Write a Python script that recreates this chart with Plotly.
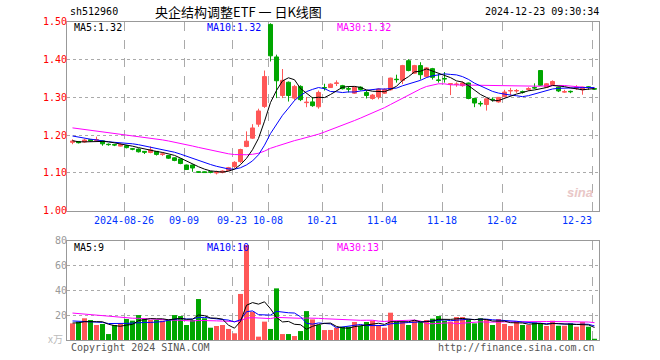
import numpy as np
import pandas as pd
import plotly.graph_objects as go

W, H = 660, 360

# ---------------- data ----------------
day_index = list(range(88))
tick_index = [9, 19, 27, 33, 42, 52, 62, 72, 87]
tick_labels = ["2024-08-26", "09-09", "09-23", "10-08", "10-21",
               "11-04", "11-18", "12-02", "12-23"]

opens = [1.181, 1.183, 1.182, 1.188, 1.186, 1.185, 1.176, 1.175, 1.171, 1.172,
         1.164, 1.163, 1.157, 1.154, 1.157, 1.149, 1.146, 1.140, 1.137, 1.121,
         1.121, 1.103, 1.103, 1.103, 1.100, 1.101, 1.106, 1.117, 1.130, 1.170,
         1.192, 1.229, 1.276, 1.493, 1.407, 1.305, 1.340, 1.298, 1.329, 1.286,
         1.288, 1.275, 1.326, 1.326, 1.337, 1.331, 1.323, 1.311, 1.327, 1.313,
         1.297, 1.301, 1.311, 1.320, 1.348, 1.345, 1.397, 1.364, 1.384, 1.355,
         1.376, 1.346, 1.350, 1.335, 1.334, 1.331, 1.338, 1.297, 1.284, 1.281,
         1.295, 1.288, 1.302, 1.317, 1.317, 1.315, 1.321, 1.326, 1.371, 1.327,
         1.334, 1.327, 1.314, 1.316, 1.324, 1.320, 1.328, 1.323]
highs = [1.189, 1.184, 1.190, 1.189, 1.196, 1.186, 1.178, 1.176, 1.178, 1.174,
         1.166, 1.165, 1.158, 1.170, 1.158, 1.154, 1.147, 1.141, 1.138, 1.122,
         1.122, 1.104, 1.104, 1.104, 1.106, 1.107, 1.116, 1.131, 1.164, 1.210,
         1.229, 1.270, 1.371, 1.496, 1.413, 1.375, 1.342, 1.333, 1.332, 1.301,
         1.301, 1.318, 1.336, 1.337, 1.345, 1.333, 1.329, 1.329, 1.329, 1.318,
         1.309, 1.324, 1.324, 1.352, 1.360, 1.386, 1.401, 1.386, 1.393, 1.380,
         1.378, 1.362, 1.367, 1.337, 1.340, 1.342, 1.339, 1.299, 1.290, 1.297,
         1.300, 1.301, 1.320, 1.325, 1.322, 1.318, 1.327, 1.337, 1.372, 1.338,
         1.345, 1.328, 1.320, 1.318, 1.332, 1.328, 1.330, 1.324]
lows = [1.176, 1.178, 1.180, 1.183, 1.185, 1.172, 1.172, 1.171, 1.170, 1.165,
        1.160, 1.154, 1.150, 1.152, 1.146, 1.145, 1.137, 1.131, 1.123, 1.108,
        1.103, 1.100, 1.100, 1.099, 1.096, 1.099, 1.105, 1.113, 1.126, 1.168,
        1.190, 1.222, 1.272, 1.395, 1.298, 1.298, 1.289, 1.292, 1.290, 1.274,
        1.275, 1.270, 1.318, 1.325, 1.330, 1.321, 1.313, 1.309, 1.318, 1.297,
        1.294, 1.295, 1.309, 1.318, 1.339, 1.335, 1.369, 1.362, 1.347, 1.352,
        1.347, 1.339, 1.339, 1.306, 1.328, 1.328, 1.295, 1.274, 1.276, 1.265,
        1.289, 1.286, 1.300, 1.305, 1.312, 1.310, 1.317, 1.322, 1.330, 1.325,
        1.333, 1.314, 1.312, 1.311, 1.320, 1.307, 1.320, 1.320]
closes = [1.184, 1.180, 1.187, 1.185, 1.188, 1.177, 1.175, 1.174, 1.175, 1.167,
          1.163, 1.156, 1.155, 1.161, 1.149, 1.150, 1.139, 1.133, 1.125, 1.109,
          1.113, 1.102, 1.101, 1.102, 1.101, 1.105, 1.114, 1.128, 1.162, 1.184,
          1.219, 1.264, 1.355, 1.410, 1.344, 1.345, 1.305, 1.329, 1.294, 1.287,
          1.278, 1.313, 1.325, 1.335, 1.338, 1.323, 1.322, 1.327, 1.321, 1.305,
          1.306, 1.322, 1.321, 1.351, 1.347, 1.384, 1.371, 1.384, 1.360, 1.378,
          1.353, 1.345, 1.349, 1.336, 1.335, 1.338, 1.297, 1.285, 1.283, 1.296,
          1.294, 1.300, 1.314, 1.318, 1.318, 1.314, 1.323, 1.325, 1.332, 1.336,
          1.342, 1.317, 1.315, 1.315, 1.326, 1.327, 1.326, 1.322]
# closes before the visible window (only feed the moving averages)
prior_closes = [1.245, 1.242, 1.240, 1.238, 1.236, 1.235, 1.233, 1.232, 1.231, 1.230,
                1.229, 1.228, 1.227, 1.226, 1.225, 1.224, 1.222, 1.221, 1.220, 1.215,
                1.214, 1.212, 1.210, 1.208, 1.206, 1.195, 1.188, 1.182, 1.178]

volumes = [13.4, 14.8, 17.5, 16.1, 12.1, 12.9, 4.8, 12.1, 13.4, 16.9,
           15.6, 20.1, 17.5, 16.1, 16.1, 15.6, 16.1, 20.1, 19.3, 12.1,
           16.1, 33.0, 17.5, 9.9, 11.3, 12.1, 8.9, 5.4, 37.1, 76.5,
           22.8, 2.7, 14.8, 8.9, 41.6, 4.8, 4.8, 3.2, 7.2, 23.3,
           16.6, 12.1, 8.0, 8.1, 9.9, 10.7, 10.7, 14.5, 11.3, 14.5,
           15.6, 11.5, 9.9, 22.0, 14.8, 14.8, 12.1, 16.1, 14.8, 16.1,
           17.2, 19.3, 15.6, 14.8, 18.5, 18.5, 16.6, 13.4, 17.5, 16.6,
           12.1, 16.9, 12.9, 11.3, 15.3, 12.1, 12.1, 14.0, 13.4, 11.3,
           15.6, 11.5, 11.5, 13.4, 10.7, 14.5, 10.7, 1.1]
volume_up = [1, 0, 1, 0, 1, 0, 0, 0, 1, 0,
             0, 0, 0, 1, 0, 1, 0, 0, 0, 0,
             0, 0, 0, 0, 1, 1, 1, 1, 1, 1,
             1, 1, 1, 0, 0, 1, 0, 1, 0, 0,
             1, 0, 1, 1, 1, 0, 0, 1, 0, 0,
             1, 1, 1, 1, 0, 1, 0, 1, 0, 1,
             0, 0, 0, 1, 1, 1, 0, 0, 0, 1,
             0, 1, 1, 1, 1, 0, 1, 0, 0, 1,
             1, 0, 1, 0, 1, 1, 0, 0]
prior_volumes = [28, 26, 30, 24, 27, 25, 22, 29, 26, 24,
                 23, 27, 25, 22, 24, 26, 23, 21, 24, 22,
                 18, 16, 19, 15, 17, 14, 13, 15, 13]

price_ticks = [1.00, 1.10, 1.20, 1.30, 1.40, 1.50]
volume_ticks = [0, 20, 40, 60, 80]

price_legend = ["MA5:1.32", "MA10:1.32", "MA30:1.32"]
volume_legend = ["MA5:9", "MA10:10", "MA30:13"]

# ---------------- styling ----------------
RED = "#ff5757"
GREEN = "#00a600"
BLUE = "#0000ff"
MAGENTA = "#ff00ff"
FRAME = "#999999"
GRID = "#aaaaaa"
MONO = "DejaVu Sans Mono, Liberation Mono, monospace"
CJK = "Noto Sans CJK SC, sans-serif"


def px(x):
    return x / W


def py(y):
    return 1 - y / H


def rolling(prior, vals, n):
    s = pd.Series(list(prior) + list(vals), dtype=float)
    return s.rolling(n).mean().iloc[len(prior):].to_numpy()


ma5 = rolling(prior_closes, closes, 5)
ma10 = rolling(prior_closes, closes, 10)
ma30 = rolling(prior_closes, closes, 30)
vma5 = rolling(prior_volumes, volumes, 5)
vma10 = rolling(prior_volumes, volumes, 10)
vma30 = rolling(prior_volumes, volumes, 30)

fig = go.Figure()

fig.add_trace(go.Candlestick(
    x=day_index, open=opens, high=highs, low=lows, close=closes,
    increasing=dict(line=dict(color=RED, width=1), fillcolor=RED),
    decreasing=dict(line=dict(color=GREEN, width=1), fillcolor=GREEN),
    whiskerwidth=0, xaxis="x", yaxis="y", showlegend=False, hoverinfo="skip"))

for arr, col in [(ma30, MAGENTA), (ma10, BLUE), (ma5, "#000000")]:
    fig.add_trace(go.Scatter(x=day_index, y=arr, mode="lines",
                             line=dict(color=col, width=1), xaxis="x", yaxis="y",
                             showlegend=False, hoverinfo="skip"))

fig.add_trace(go.Bar(x=day_index, y=volumes,
                     marker=dict(color=[RED if u else GREEN for u in volume_up],
                                 line=dict(width=0)),
                     xaxis="x2", yaxis="y2", showlegend=False, hoverinfo="skip"))

for arr, col in [(vma30, MAGENTA), (vma10, BLUE), (vma5, "#000000")]:
    fig.add_trace(go.Scatter(x=day_index, y=arr, mode="lines",
                             line=dict(color=col, width=1), xaxis="x2", yaxis="y2",
                             showlegend=False, hoverinfo="skip"))

x_left, x_right = 67, 598.5
unit = 6.0
x_range = [-(72.5 - x_left) / unit, (x_right - 72.5) / unit]
grid_pos = [i - 2.5 / unit for i in tick_index]
tick_text = list(tick_labels)
tick_text[-1] = tick_text[-1] + "\u00a0" * 5

common_x = dict(range=x_range, domain=[px(x_left), px(x_right)],
                tickvals=grid_pos, showgrid=True, gridcolor=GRID, griddash="dash",
                gridwidth=1, showline=True, mirror=True, linecolor=FRAME, linewidth=1,
                zeroline=False, ticks="", fixedrange=True, automargin=False)

fig.update_layout(
    width=W, height=H, margin=dict(l=0, r=0, t=0, b=0, autoexpand=False),
    paper_bgcolor="white", plot_bgcolor="white",
    boxgap=0.33, boxgroupgap=0, bargap=0.17,
    showlegend=False,
    xaxis=dict(common_x, anchor="y", ticktext=tick_text, showticklabels=True,
               tickfont=dict(family=MONO, size=10, color="#0033ff"),
               rangeslider=dict(visible=False)),
    yaxis=dict(domain=[py(210.7), py(21.8)], range=[1.0, 1.5], anchor="x",
               tickvals=price_ticks, ticktext=[f"{v:.2f}" for v in price_ticks],
               tickfont=dict(family=MONO, size=10, color="#ff0000"),
               ticklabelstandoff=-3,
               showgrid=True, gridcolor=GRID, griddash="dot", gridwidth=1,
               showline=True, mirror=True, linecolor=FRAME, linewidth=1,
               zeroline=False, ticks="", fixedrange=True, automargin=False),
    xaxis2=dict(common_x, anchor="y2", ticktext=tick_text, showticklabels=False),
    yaxis2=dict(domain=[py(340), py(240.7)], range=[0, 80], anchor="x2",
                tickvals=volume_ticks,
                ticktext=["" if v == 0 else str(v) for v in volume_ticks],
                tickfont=dict(family=MONO, size=10, color="#999999"),
                ticklabelstandoff=-3,
                showgrid=True, gridcolor=GRID, griddash="dot", gridwidth=1,
                showline=True, mirror=True, linecolor=FRAME, linewidth=1,
                zeroline=False, ticks="", fixedrange=True, automargin=False),
)

ann = []


def text(x, y, s, color="#000000", size=10, family=MONO, anchor="left"):
    ann.append(dict(x=px(x), y=py(y), xref="paper", yref="paper", text=s,
                    showarrow=False, xanchor=anchor, yanchor="middle",
                    font=dict(family=family, size=size, color=color)))


text(68, 12, "sh512960")
text(238, 11, "央企结构调整ETF 一 日K线图", size=13, family=CJK, anchor="center")
text(601, 12, "2024-12-23 09:30:34", anchor="right")

leg_x = [72, 205, 335]
for s, c, xx in zip(price_legend, ["#000000", BLUE, MAGENTA], leg_x):
    text(xx, 28, s, color=c)
for s, c, xx in zip(volume_legend, ["#000000", BLUE, MAGENTA], leg_x):
    text(xx, 247, s, color=c)

text(65, 338, "x万", color="#bbbbbb", size=10, family=CJK, anchor="right")
text(69, 347, "Copyright 2024 SINA.COM", color="#555555")
text(597, 347, "http://finance.sina.com.cn", color="#555555", anchor="right")
text(580, 192, "<b><i>sina</i></b>", color="#e9c7c7", size=13, family="Arial, sans-serif",
     anchor="center")

fig.update_layout(annotations=ann)
fig.write_html(
    "out.html",
    config={"displayModeBar": False, "staticPlot": True},
    post_script="document.body.style.margin='0px';"
                "document.documentElement.style.overflow='hidden';")
